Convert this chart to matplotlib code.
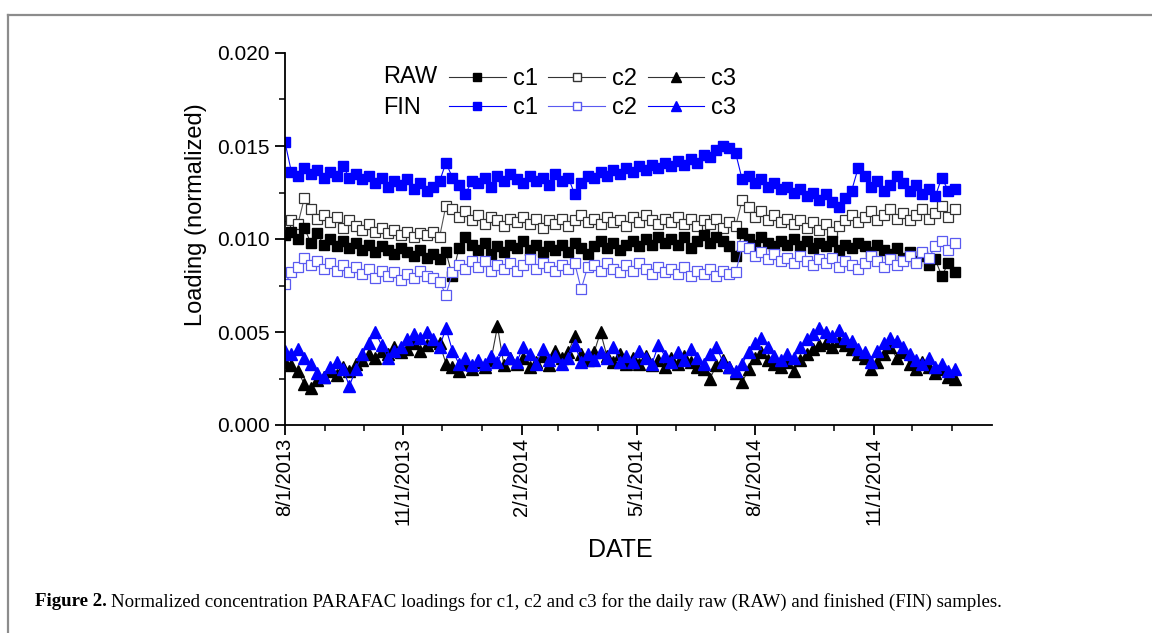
import matplotlib
matplotlib.use("Agg")
import matplotlib.pyplot as plt
from matplotlib.lines import Line2D
import pandas as pd

plt.rcParams['font.family'] = ['Liberation Sans', 'DejaVu Sans']

# sampling dates (every 5 days, Aug 2013 - Jan 2015)
dates = pd.date_range('2013-08-01', periods=105, freq='5D')

raw_c1 = [0.0102, 0.0104, 0.0100, 0.0106, 0.0098, 0.0103,
          0.0097, 0.0100, 0.0096, 0.0099, 0.0095, 0.0098,
          0.0094, 0.0097, 0.0093, 0.0096, 0.0094, 0.0092,
          0.0095, 0.0093, 0.0091, 0.0094, 0.0090, 0.0092,
          0.0089,
          0.0093, 0.0080, 0.0095, 0.0101, 0.0097,
          0.0094, 0.0098, 0.0092, 0.0096, 0.0093, 0.0097,
          0.0095, 0.0099, 0.0094, 0.0097, 0.0093, 0.0096,
          0.0094, 0.0097, 0.0093, 0.0098, 0.0095, 0.0092,
          0.0096, 0.0099, 0.0095, 0.0098, 0.0094, 0.0097,
          0.0099, 0.0096, 0.0100, 0.0097, 0.0101, 0.0098,
          0.0100, 0.0097, 0.0101, 0.0095, 0.0099, 0.0102,
          0.0098, 0.0101, 0.0099, 0.0096, 0.0091,
          0.0103,
          0.0100, 0.0097, 0.0101, 0.0098, 0.0096, 0.0099,
          0.0097, 0.0100, 0.0096, 0.0099, 0.0095, 0.0098,
          0.0096, 0.0099, 0.0094, 0.0097, 0.0095, 0.0098,
          0.0096, 0.0093, 0.0097, 0.0094, 0.0092, 0.0095,
          0.0090, 0.0093, 0.0088, 0.0091, 0.0086, 0.0089,
          0.0080, 0.0087, 0.0082]

raw_c2 = [0.0107, 0.0110, 0.0108, 0.0122, 0.0116, 0.0111,
          0.0113, 0.0109, 0.0112, 0.0106, 0.0110, 0.0107,
          0.0105, 0.0108, 0.0104, 0.0106, 0.0103, 0.0105,
          0.0102, 0.0104, 0.0101, 0.0103, 0.0102, 0.0104,
          0.0101,
          0.0118, 0.0116, 0.0112, 0.0115, 0.0110,
          0.0113, 0.0108, 0.0112, 0.0110, 0.0107, 0.0111,
          0.0109, 0.0112, 0.0108, 0.0111, 0.0106, 0.0110,
          0.0108, 0.0111, 0.0107, 0.0110, 0.0113, 0.0109,
          0.0111, 0.0108, 0.0112, 0.0109, 0.0110, 0.0107,
          0.0112, 0.0109, 0.0113, 0.0110, 0.0108, 0.0111,
          0.0109, 0.0112, 0.0108, 0.0111, 0.0107, 0.0110,
          0.0108, 0.0111, 0.0106, 0.0109, 0.0107,
          0.0121,
          0.0117, 0.0112, 0.0115, 0.0110, 0.0113, 0.0109,
          0.0111, 0.0108, 0.0110, 0.0106, 0.0109, 0.0105,
          0.0108, 0.0104, 0.0107, 0.0110, 0.0113, 0.0109,
          0.0112, 0.0115, 0.0110, 0.0113, 0.0116, 0.0111,
          0.0114, 0.0110, 0.0113, 0.0116, 0.0111, 0.0114,
          0.0118, 0.0112, 0.0116]

raw_c3 = [0.0034, 0.0032, 0.0029, 0.0022, 0.0020, 0.0024,
          0.0026, 0.0029, 0.0027, 0.0031, 0.0029, 0.0033,
          0.0035, 0.0038, 0.0036, 0.0040, 0.0038, 0.0042,
          0.0039, 0.0041, 0.0044, 0.0040, 0.0043, 0.0045,
          0.0044,
          0.0033, 0.0031, 0.0029, 0.0033, 0.0030,
          0.0034, 0.0031, 0.0035, 0.0053, 0.0032, 0.0036,
          0.0033, 0.0036, 0.0031, 0.0034, 0.0037, 0.0032,
          0.0040, 0.0036, 0.0039, 0.0048, 0.0038, 0.0035,
          0.0039, 0.0050, 0.0037, 0.0034, 0.0038, 0.0033,
          0.0036, 0.0033, 0.0037, 0.0032, 0.0035, 0.0031,
          0.0036, 0.0033, 0.0037, 0.0034, 0.0031, 0.0030,
          0.0025, 0.0032, 0.0035, 0.0031, 0.0028,
          0.0023,
          0.0030, 0.0036, 0.0039, 0.0035, 0.0033, 0.0031,
          0.0034, 0.0029, 0.0035, 0.0038, 0.0041, 0.0043,
          0.0044, 0.0042, 0.0045, 0.0043, 0.0041, 0.0038,
          0.0036, 0.0030, 0.0034, 0.0038, 0.0042, 0.0036,
          0.0039, 0.0033, 0.0030, 0.0034, 0.0031, 0.0028,
          0.0030, 0.0026, 0.0025]

fin_c1 = [0.0152, 0.0136, 0.0134, 0.0138, 0.0135, 0.0137,
          0.0133, 0.0136, 0.0134, 0.0139, 0.0133, 0.0135,
          0.0132, 0.0134, 0.0130, 0.0133, 0.0128, 0.0131,
          0.0129, 0.0132, 0.0127, 0.0130, 0.0126, 0.0128,
          0.0131,
          0.0141, 0.0133, 0.0129, 0.0124, 0.0131,
          0.0130, 0.0133, 0.0128, 0.0134, 0.0131, 0.0135,
          0.0132, 0.0130, 0.0134, 0.0131, 0.0133, 0.0129,
          0.0135, 0.0131, 0.0133, 0.0124, 0.0130, 0.0134,
          0.0133, 0.0136, 0.0134, 0.0137, 0.0135, 0.0138,
          0.0136, 0.0139, 0.0137, 0.0140, 0.0138, 0.0141,
          0.0139, 0.0142, 0.0140, 0.0143, 0.0141, 0.0145,
          0.0144, 0.0148, 0.0150, 0.0149, 0.0146,
          0.0132,
          0.0134, 0.0130, 0.0132, 0.0128, 0.0130, 0.0127,
          0.0128, 0.0125, 0.0127, 0.0123, 0.0125, 0.0121,
          0.0124, 0.0120, 0.0117, 0.0122, 0.0126, 0.0138,
          0.0134, 0.0128, 0.0131, 0.0126, 0.0129, 0.0134,
          0.0130, 0.0126, 0.0129, 0.0124, 0.0127, 0.0123,
          0.0133, 0.0126, 0.0127]

fin_c2 = [0.0076, 0.0082, 0.0085, 0.0090, 0.0086, 0.0088,
          0.0084, 0.0087, 0.0083, 0.0086, 0.0082, 0.0085,
          0.0081, 0.0084, 0.0079, 0.0083, 0.0080, 0.0082,
          0.0078, 0.0081, 0.0079, 0.0083, 0.0080, 0.0079,
          0.0077,
          0.0070, 0.0082, 0.0086, 0.0084, 0.0088,
          0.0085, 0.0088, 0.0083, 0.0086, 0.0084, 0.0087,
          0.0083, 0.0086, 0.0089, 0.0084, 0.0087, 0.0085,
          0.0083, 0.0086, 0.0084, 0.0087, 0.0073, 0.0085,
          0.0086, 0.0083, 0.0087, 0.0084, 0.0082, 0.0086,
          0.0083, 0.0087, 0.0084, 0.0081, 0.0085, 0.0082,
          0.0084, 0.0081, 0.0085, 0.0080, 0.0083, 0.0081,
          0.0084, 0.0080, 0.0083, 0.0081, 0.0082,
          0.0096,
          0.0095, 0.0091, 0.0093, 0.0089, 0.0092, 0.0088,
          0.0090, 0.0087, 0.0091, 0.0088, 0.0086, 0.0089,
          0.0087, 0.0090, 0.0085, 0.0088, 0.0086, 0.0084,
          0.0087, 0.0091, 0.0088, 0.0085, 0.0089, 0.0086,
          0.0088, 0.0091, 0.0087, 0.0093, 0.0090, 0.0096,
          0.0099, 0.0094, 0.0098]

fin_c3 = [0.0040, 0.0038, 0.0041, 0.0036, 0.0033, 0.0028,
          0.0026, 0.0031, 0.0034, 0.0030, 0.0021, 0.0030,
          0.0038, 0.0044, 0.0050, 0.0043, 0.0036, 0.0040,
          0.0042, 0.0046, 0.0049, 0.0047, 0.0050, 0.0046,
          0.0042,
          0.0052, 0.0040, 0.0033, 0.0036, 0.0032,
          0.0035, 0.0033, 0.0037, 0.0034, 0.0041, 0.0036,
          0.0034, 0.0042, 0.0038, 0.0033, 0.0041, 0.0035,
          0.0037, 0.0033, 0.0036, 0.0043, 0.0034, 0.0038,
          0.0035, 0.0039, 0.0036, 0.0042, 0.0034, 0.0037,
          0.0034, 0.0040, 0.0036, 0.0033, 0.0043, 0.0037,
          0.0034, 0.0039, 0.0035, 0.0041, 0.0036, 0.0033,
          0.0038, 0.0042, 0.0034, 0.0031, 0.0029,
          0.0033,
          0.0039, 0.0044, 0.0047, 0.0042, 0.0037, 0.0035,
          0.0038, 0.0036, 0.0042, 0.0046, 0.0049, 0.0052,
          0.0050, 0.0048, 0.0051, 0.0047, 0.0045, 0.0041,
          0.0039, 0.0034, 0.0040, 0.0044, 0.0047, 0.0045,
          0.0042, 0.0038, 0.0035, 0.0033, 0.0036, 0.0031,
          0.0033, 0.0029, 0.0030]

major_dates = pd.to_datetime(['2013-08-01', '2013-11-01', '2014-02-01',
                              '2014-05-01', '2014-08-01', '2014-11-01'])
minor_dates = pd.date_range('2013-09-01', '2015-01-01', freq='MS')

W, H = 1152, 633
fig = plt.figure(figsize=(W / 100, H / 100), dpi=100)
ax = fig.add_axes([285 / W, 1 - 425 / H, 707 / W, 372 / H])

blue = '#0000ff'
lblue = '#5a5af0'
ms = 7.5

ax.plot(dates, raw_c2, '-s', color='#555555', lw=0.8, ms=ms, mfc='white', mec='#333333', mew=0.9)
ax.plot(dates, raw_c1, '-s', color='#333333', lw=0.8, ms=ms, mfc='black', mec='black')
ax.plot(dates, fin_c2, '-s', color=lblue, lw=0.8, ms=ms, mfc='white', mec=lblue, mew=0.9)
ax.plot(dates, fin_c1, '-s', color=blue, lw=0.8, ms=ms, mfc=blue, mec=blue)
ax.plot(dates, raw_c3, '-^', color='#333333', lw=0.8, ms=9, mfc='black', mec='black')
ax.plot(dates, fin_c3, '-^', color=blue, lw=0.8, ms=9, mfc=blue, mec=blue)

ax.set_xlim(pd.Timestamp('2013-08-01'), pd.Timestamp('2015-02-01'))
ax.set_ylim(0, 0.020)
ax.set_yticks([0.000, 0.005, 0.010, 0.015, 0.020])
ax.set_yticks([0.0025, 0.0075, 0.0125, 0.0175], minor=True)
ax.set_yticklabels(['0.000', '0.005', '0.010', '0.015', '0.020'], fontsize=15)
ax.set_xticks(major_dates)
ax.set_xticks(minor_dates, minor=True)
ax.set_xticklabels([f'{d.month}/{d.day}/{d.year}' for d in major_dates],
                   rotation=90, fontsize=14.5)

for s in ['top', 'right']:
    ax.spines[s].set_visible(False)
for s in ['left', 'bottom']:
    ax.spines[s].set_linewidth(1.3)
ax.tick_params(which='major', direction='out', length=7, width=1.3, pad=4)
ax.tick_params(which='minor', direction='out', length=4, width=1.1)
ax.tick_params(axis='x', which='major', pad=2)
ax.set_ylabel('Loading (normalized)', fontsize=17)
ax.yaxis.set_label_coords(-0.11, 0.565)
ax.set_xlabel('DATE', fontsize=18)
ax.xaxis.set_label_coords(0.474, -0.305)

# legend: RAW row (black), FIN row (blue)
handles = [
    Line2D([], [], color='#333333', lw=0.8, marker='s', ms=6, mfc='black', mec='black'),
    Line2D([], [], color=blue, lw=0.8, marker='s', ms=6, mfc=blue, mec=blue),
    Line2D([], [], color='#333333', lw=0.8, marker='s', ms=6, mfc='white', mec='#333333'),
    Line2D([], [], color=lblue, lw=0.8, marker='s', ms=6, mfc='white', mec=lblue),
    Line2D([], [], color='#333333', lw=0.8, marker='^', ms=7, mfc='black', mec='black'),
    Line2D([], [], color=blue, lw=0.8, marker='^', ms=7, mfc=blue, mec=blue),
]
labels = ['c1', 'c1', 'c2', 'c2', 'c3', 'c3']
fig.legend(handles, labels, ncol=3, frameon=False, fontsize=17,
           loc='upper left', bbox_to_anchor=(449 / W, 1 - 68 / H),
           borderpad=0, borderaxespad=0, handlelength=2.4, handletextpad=0.3,
           columnspacing=0.45, labelspacing=0.3)
fig.text(383 / W, 1 - 77 / H, 'RAW', fontsize=17, va='center')
fig.text(383 / W, 1 - 108 / H, 'FIN', fontsize=17, va='center')

# frame around figure
fig.add_artist(Line2D([8 / W, 1], [1 - 15 / H, 1 - 15 / H], color='#8c8c8c', lw=1.6))
fig.add_artist(Line2D([8 / W, 8 / W], [0, 1 - 15 / H], color='#8c8c8c', lw=1.6))

# caption
cap_font = ['Liberation Serif', 'DejaVu Serif']
t1 = fig.text(35 / W, 1 - 602 / H, 'Figure 2.', fontsize=13.6, fontweight='bold',
              family=cap_font, va='center')
fig.canvas.draw()
bb = t1.get_window_extent(fig.canvas.get_renderer())
fig.text((bb.x1 + 4) / W, 1 - 602 / H,
         'Normalized concentration PARAFAC loadings for c1, c2 and c3 for the daily raw (RAW) '
         'and finished (FIN) samples.', fontsize=13.6, family=cap_font, va='center')

fig.savefig('out.png', dpi=100)
